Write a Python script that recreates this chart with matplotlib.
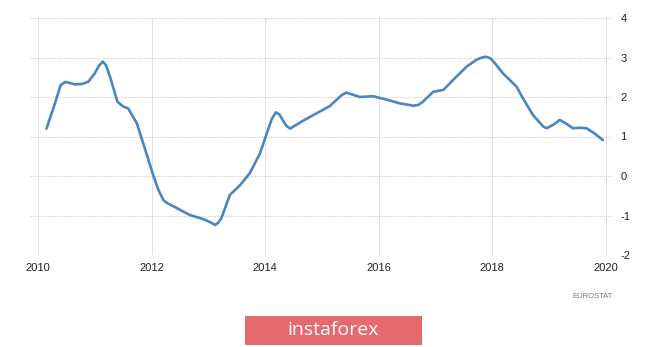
import matplotlib
matplotlib.use("Agg")
import matplotlib.pyplot as plt
from matplotlib.patches import Rectangle

plt.rcParams["axes.unicode_minus"] = False

years = [2010.15, 2010.30, 2010.40, 2010.48, 2010.55, 2010.65, 2010.78, 2010.89, 2011.00, 2011.07,
         2011.14, 2011.20, 2011.27, 2011.40, 2011.50, 2011.59, 2011.74, 2011.88, 2012.03, 2012.12,
         2012.21, 2012.28, 2012.38, 2012.53, 2012.68, 2012.91, 2013.05, 2013.12, 2013.17, 2013.23,
         2013.38, 2013.56, 2013.73, 2013.91, 2014.05, 2014.12, 2014.19, 2014.25, 2014.37, 2014.44,
         2014.67, 2014.91, 2015.14, 2015.35, 2015.43, 2015.52, 2015.67, 2015.90, 2016.15, 2016.37,
         2016.61, 2016.70, 2016.78, 2016.96, 2017.14, 2017.31, 2017.55, 2017.72, 2017.80, 2017.89,
         2017.97, 2018.05, 2018.19, 2018.31, 2018.43, 2018.54, 2018.72, 2018.90, 2018.96, 2019.08,
         2019.19, 2019.30, 2019.42, 2019.55, 2019.66, 2019.80, 2019.95]
values = [1.20, 1.84, 2.30, 2.38, 2.36, 2.32, 2.33, 2.39, 2.60, 2.78,
          2.90, 2.80, 2.51, 1.88, 1.76, 1.71, 1.34, 0.71, 0.02, -0.35,
          -0.61, -0.69, -0.76, -0.88, -0.99, -1.09, -1.18, -1.24, -1.19, -1.07,
          -0.48, -0.23, 0.07, 0.57, 1.16, 1.45, 1.61, 1.56, 1.28, 1.20,
          1.40, 1.59, 1.77, 2.05, 2.11, 2.07, 2.00, 2.02, 1.93, 1.84,
          1.78, 1.80, 1.88, 2.13, 2.18, 2.43, 2.77, 2.94, 2.99, 3.02,
          2.98, 2.85, 2.60, 2.43, 2.26, 1.97, 1.54, 1.25, 1.21, 1.30,
          1.42, 1.33, 1.21, 1.22, 1.21, 1.08, 0.91]
x_ticks = [2010, 2012, 2014, 2016, 2018, 2020]
y_ticks = [-2, -1, 0, 1, 2, 3, 4]
source = "EUROSTAT"
brand = "instaforex"

tick_font = ["Liberation Sans Narrow", "Liberation Sans", "DejaVu Sans"]

fig = plt.figure(figsize=(6.65, 3.47), dpi=100)
fig.patch.set_facecolor("white")
ax = fig.add_axes([30/665, 1-255/347, 582/665, 237/347])
ax.plot(years, values, color="#4a86c0", lw=1.9, solid_capstyle="round", solid_joinstyle="round")
ax.set_xlim(2009.86, 2020.11)
ax.set_ylim(-2, 4)
ax.set_xticks(x_ticks)
ax.set_yticks(y_ticks)
for s in ax.spines.values():
    s.set_visible(False)
ax.yaxis.tick_right()
ax.tick_params(axis="both", length=0, labelsize=8, labelcolor="#222222")
ax.tick_params(axis="y", pad=6)
ax.tick_params(axis="x", pad=6)
for lab in ax.get_xticklabels() + ax.get_yticklabels():
    lab.set_family(tick_font)
ax.grid(axis="y", color="#cfcfcf", linestyle=(0, (1, 1)), lw=0.8)
ax.grid(axis="x", color="#dddddd", linestyle="-", lw=0.6)
ax.set_axisbelow(True)

fig.text(613/665, 1-296/347, source, ha="right", va="center", fontsize=5.5,
         color="#777777", family=tick_font)

fig.patches.append(Rectangle((245/665, 1-345/347), 177/665, 29/347, transform=fig.transFigure,
                             facecolor="#e46a6e", edgecolor="none"))
fig.text(333/665, 1-330/347, brand, ha="center", va="center", fontsize=14,
         color="white", family=["Open Sans", "DejaVu Sans"])

fig.savefig("out.png", dpi=100)
